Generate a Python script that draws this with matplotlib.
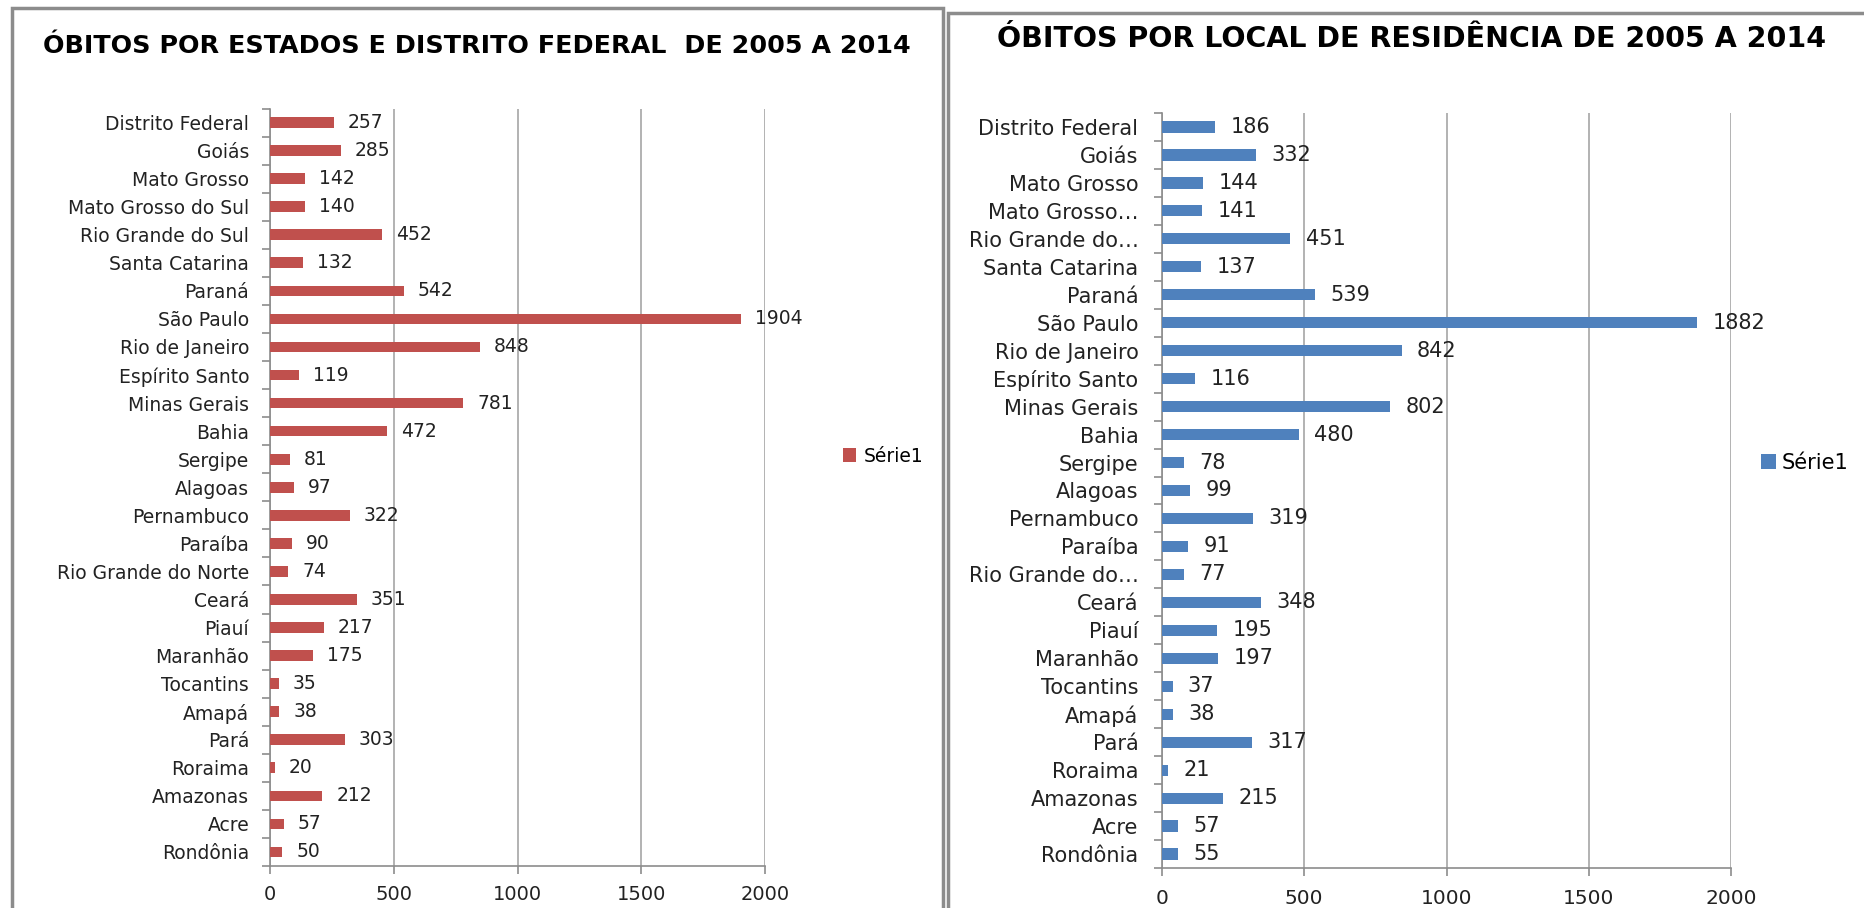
import matplotlib
matplotlib.use("Agg")
import matplotlib.pyplot as plt
from matplotlib.patches import Rectangle
import numpy as np

estados = ["Distrito Federal", "Goiás", "Mato Grosso", "Mato Grosso do Sul",
           "Rio Grande do Sul", "Santa Catarina", "Paraná", "São Paulo",
           "Rio de Janeiro", "Espírito Santo", "Minas Gerais", "Bahia",
           "Sergipe", "Alagoas", "Pernambuco", "Paraíba", "Rio Grande do Norte",
           "Ceará", "Piauí", "Maranhão", "Tocantins", "Amapá", "Pará",
           "Roraima", "Amazonas", "Acre", "Rondônia"]
# rotulos cortados no grafico da direita
estados_res = ["Distrito Federal", "Goiás", "Mato Grosso", "Mato Grosso…",
               "Rio Grande do…", "Santa Catarina", "Paraná", "São Paulo",
               "Rio de Janeiro", "Espírito Santo", "Minas Gerais", "Bahia",
               "Sergipe", "Alagoas", "Pernambuco", "Paraíba", "Rio Grande do…",
               "Ceará", "Piauí", "Maranhão", "Tocantins", "Amapá", "Pará",
               "Roraima", "Amazonas", "Acre", "Rondônia"]

obitos_estado = [257, 285, 142, 140, 452, 132, 542, 1904, 848, 119, 781, 472,
                 81, 97, 322, 90, 74, 351, 217, 175, 35, 38, 303, 20, 212, 57, 50]
obitos_residencia = [186, 332, 144, 141, 451, 137, 539, 1882, 842, 116, 802, 480,
                     78, 99, 319, 91, 77, 348, 195, 197, 37, 38, 317, 21, 215, 57, 55]

x_ticks = [0, 500, 1000, 1500, 2000]

W, H = 1865, 908
fig = plt.figure(figsize=(W / 100, H / 100), dpi=100)
plt.rcParams['font.family'] = ['DejaVu Sans']

grey = "#8c8c8c"


def px(x0, y0, x1, y1):
    # pixel box -> figure fraction [left, bottom, width, height]
    return [x0 / W, 1 - y1 / H, (x1 - x0) / W, (y1 - y0) / H]


def draw(rect, names, values, color, fs, bar_h, ypad, xpad, lab_off, xfs):
    ax = fig.add_axes(rect)
    n = len(names)
    y = np.arange(n)
    ax.barh(y, values, height=bar_h, color=color, label="Série1", zorder=3)
    for yi, v in zip(y, values):
        ax.annotate(str(v), (v, yi), xytext=(lab_off, 0), textcoords="offset points",
                    va="center", ha="left", fontsize=fs, color="#222222")
    ax.set_ylim(n - 0.5, -0.5)
    ax.set_xlim(0, 2000)
    ax.set_xticks(x_ticks)
    ax.set_yticks(y)
    ax.set_yticklabels(names)
    ax.set_yticks(np.arange(n + 1) - 0.5, minor=True)
    ax.tick_params(axis="y", which="major", length=0, pad=ypad, labelsize=fs,
                   labelcolor="#222222")
    ax.tick_params(axis="y", which="minor", length=6, width=1.2, color=grey)
    ax.tick_params(axis="x", length=6, width=1.2, color=grey, pad=xpad,
                   labelsize=xfs, labelcolor="#222222")
    ax.grid(axis="x", color="#a6a6a6", linewidth=1.2, zorder=0)
    for s in ["top", "right"]:
        ax.spines[s].set_visible(False)
    for s in ["left", "bottom"]:
        ax.spines[s].set_color(grey)
        ax.spines[s].set_linewidth(1.2)
    return ax


# moldura dos dois graficos
fig.patches.append(Rectangle((12 / W, -0.02), (943 - 12) / W, 1.02 - 8 / H,
                             transform=fig.transFigure, fill=False,
                             edgecolor=grey, linewidth=2.5))
fig.patches.append(Rectangle((948 / W, -0.02), 0.99, 1.02 - 13 / H,
                             transform=fig.transFigure, fill=False,
                             edgecolor=grey, linewidth=2.5))

ax1 = draw(px(270, 108.5, 765, 866), estados, obitos_estado, "#C0504D",
           13.5, 0.38, 15, 8, 10, 14)
fig.text(477 / W, 1 - 53 / H, "ÓBITOS POR ESTADOS E DISTRITO FEDERAL  DE 2005 A 2014",
         fontsize=18.3, fontweight="bold", ha="center", va="baseline")
ax1.legend(loc="center left", bbox_to_anchor=(843 / W, 1 - 456 / H),
           bbox_transform=fig.transFigure, frameon=False, borderpad=0,
           borderaxespad=0, handlelength=0.7, handleheight=0.7,
           handletextpad=0.4, fontsize=13.5)

ax2 = draw(px(1162, 113, 1731, 868), estados_res, obitos_residencia, "#4F81BD",
           15, 0.4, 17, 9, 11, 14.5)
fig.text(1412 / W, 1 - 47 / H, "ÓBITOS POR LOCAL DE RESIDÊNCIA DE 2005 A 2014",
         fontsize=20.5, fontweight="bold", ha="center", va="baseline")
ax2.legend(loc="center left", bbox_to_anchor=(1761 / W, 1 - 463 / H),
           bbox_transform=fig.transFigure, frameon=False, borderpad=0,
           borderaxespad=0, handlelength=0.7, handleheight=0.7,
           handletextpad=0.3, fontsize=15)

fig.savefig("out.png", dpi=100)
